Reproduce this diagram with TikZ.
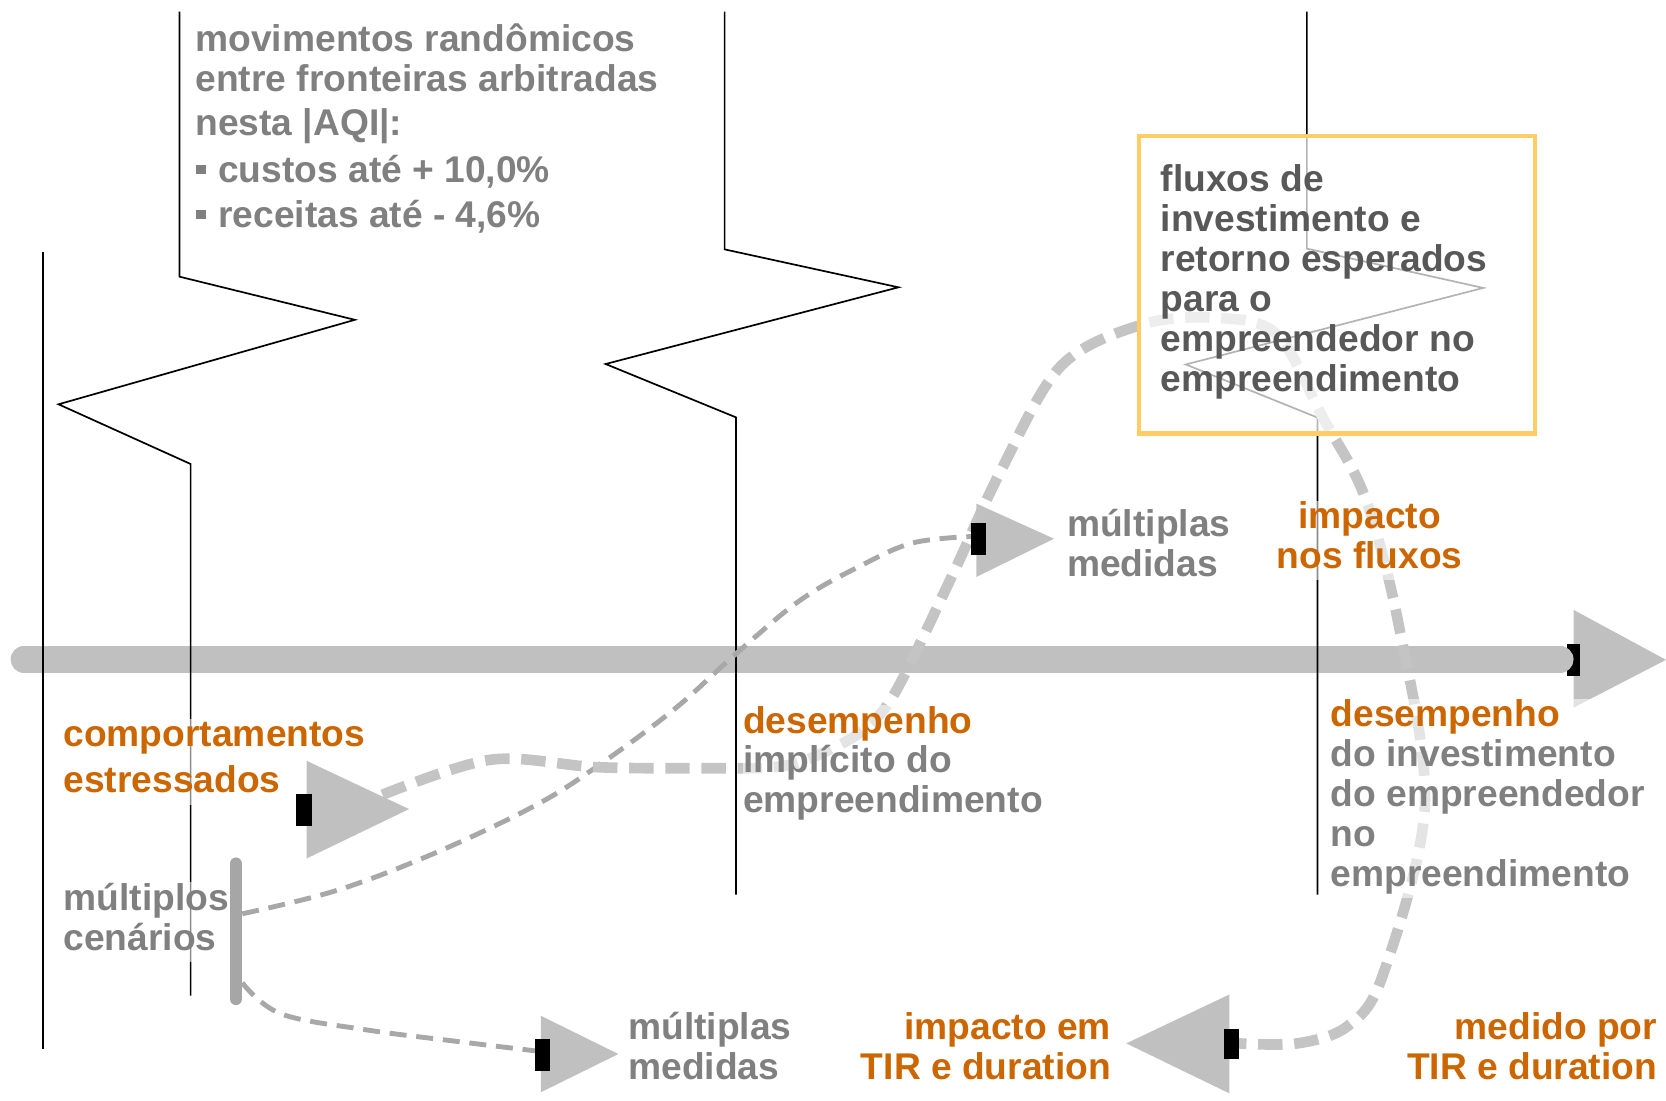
\documentclass[tikz,border=0pt]{standalone}
\usepackage{fontspec}
\setmainfont{Liberation Sans}
\definecolor{txtgray}{HTML}{808080}
\definecolor{boxtxt}{HTML}{585858}
\definecolor{orng}{HTML}{CC6600}
\definecolor{arrgray}{HTML}{C0C0C0}
\definecolor{dashlight}{HTML}{C4C4C4}
\definecolor{dashdark}{HTML}{A8A8A8}
\definecolor{boxedge}{HTML}{FFCC66}
\definecolor{bargray}{HTML}{A6A6A6}
\newcommand\bulsq{\raisebox{0.23em}{\rule{0.27em}{0.24em}}\hspace{0.34em}}
\begin{document}
\begin{tikzpicture}[x=0.5pt,y=-0.5pt,
  zig/.style={draw=black, line width=0.8pt, line join=miter},
  lbl/.style={inner sep=0pt, font=\bfseries\fontsize{17.5}{18.75}\selectfont,
              fill=white, fill opacity=0.55, text opacity=1},
  thindash/.style={draw=dashdark, line width=2.3pt, dash pattern=on 8pt off 4.6pt},
  thickdash/.style={draw=dashlight, line width=5pt, dash pattern=on 11.5pt off 5.5pt},
  tri/.style={fill=arrgray},
  tab/.style={fill=black},
  framebox/.style={draw=boxedge, line width=1.9pt, fill=white, fill opacity=0.7, inner sep=0pt}]
\useasboundingbox (0,0) rectangle (1568,1035.3);

% main time axis
\fill[tri] (1481,574) -- (1568,621) -- (1481,666) -- cycle;
\fill[tab] (1475,606) rectangle (1487,636);
\coordinate (axL) at (22.5,620.5);
\coordinate (axR) at (1468.5,620.5);
\draw[arrgray, line width=12.5pt, line cap=round] (axL) -- (axR);

% boundaries
\draw[zig] (40.5,237) -- (40.5,987);
\draw[zig] (169,11) -- (169,260.4) -- (334,301) -- (55.1,380.5) -- (179.4,436.7) -- (179.4,937);
\draw[zig] (682,11) -- (682,234.7) -- (845.6,270.4) -- (570,342.6) -- (692.7,392.8) -- (692.7,842);
\draw[zig] (1230,11) -- (1230,234) -- (1396,271) -- (1116,343) -- (1240,393) -- (1240,842);

% scenario bar
\coordinate (sbT) at (222,813);
\coordinate (sbB) at (222,940);
\draw[bargray, line width=6pt, line cap=round] (sbT) -- (sbB);

% connector endpoints
\coordinate (bar1) at (228,860);
\coordinate (bar2) at (228,925);
\coordinate (mUp) at (914,505);
\coordinate (mLow) at (503.5,989);
\coordinate (cs) at (360,748);
\coordinate (la) at (1166,982);

% dashed connectors
\draw[thindash] plot[smooth, tension=0.6] coordinates {(bar1) (317,838) (409,803) (502,759) (561,722) (634,668) (693,615) (753,565) (809,533) (859,511) (mUp)};
\draw[thindash] plot[smooth, tension=0.6] coordinates {(bar2) (264,954) (343,969) (429,980) (mLow)};
\draw[thickdash] plot[smooth, tension=0.55] coordinates {(cs) (462,715) (561,722) (659,723) (737,721) (784,704) (816,684) (844,649) (897,540) (941,445) (998,345) (1073,306) (1141,299) (1201,314) (1245,393) (1285,469) (1317,591) (1341,759) (1301,919) (1268,966) (1221,982) (la)};

% framed box
\node[framebox, minimum width=186.5pt, minimum height=140pt] (box) at (1258.5,268) {};

% texts
\node[lbl, anchor=base west, text=txtgray] (top) at (183.6,48.6)
  {\begin{tabular}[t]{@{}l@{}}movimentos randômicos\\ entre fronteiras arbitradas\\[2.1pt] nesta |AQI|:\\[3.2pt] \bulsq custos até + 10,0\%\\[2.4pt] \bulsq receitas até - 4,6\%\end{tabular}};
\node[lbl, anchor=base west, text=boxtxt, fill opacity=0] (boxtext) at (1092,180.5)
  {\begin{tabular}[t]{@{}l@{}}fluxos de\\ investimento e\\ retorno esperados\\ para o\\ empreendedor no\\ empreendimento\end{tabular}};
\node[lbl, anchor=base west, text=orng] (comp) at (59.4,702.7)
  {\begin{tabular}[t]{@{}l@{}}comportamentos\\[2.9pt] estressados\end{tabular}};
\node[lbl, anchor=base west, text=txtgray] (cen) at (59.4,856.5)
  {\begin{tabular}[t]{@{}l@{}}múltiplos\\[0.3pt] cenários\end{tabular}};
\node[lbl, anchor=base west, text=txtgray] (impl) at (699,690)
  {\begin{tabular}[t]{@{}l@{}}\textcolor{orng}{desempenho}\\ implícito do\\ empreendimento\end{tabular}};
\node[lbl, anchor=base west, text=txtgray] (medUp) at (1004,505)
  {\begin{tabular}[t]{@{}l@{}}múltiplas\\ medidas\end{tabular}};
\node[lbl, anchor=base, text=orng] (impfl) at (1289,497.5)
  {\begin{tabular}[t]{@{}c@{}}impacto\\ nos fluxos\end{tabular}};
\node[lbl, anchor=base west, text=txtgray] (inv) at (1252,684)
  {\begin{tabular}[t]{@{}l@{}}\textcolor{orng}{desempenho}\\ do investimento\\ do empreendedor\\ no\\ empreendimento\end{tabular}};
\node[lbl, anchor=base west, text=txtgray] (medLow) at (591,978.2)
  {\begin{tabular}[t]{@{}l@{}}múltiplas\\ medidas\end{tabular}};
\node[lbl, anchor=base east, text=orng] (tir1) at (1046,978.8)
  {\begin{tabular}[t]{@{}r@{}}impacto em\\ TIR e duration\end{tabular}};
\node[lbl, anchor=base east, text=orng] (tir2) at (1560,978.8)
  {\begin{tabular}[t]{@{}r@{}}medido por\\ TIR e duration\end{tabular}};

% arrow markers (on top)
\fill[tri] (288.5,716) -- (385,761.5) -- (288.5,808) -- cycle;
\fill[tab] (279,747) rectangle (294,777);
\fill[tri] (919,474) -- (992,507) -- (919,543) -- cycle;
\fill[tab] (914,492) rectangle (928,522);
\fill[tri] (509,956) -- (582,992) -- (509,1028) -- cycle;
\fill[tab] (503.5,978) rectangle (517.6,1008);
\fill[tri] (1157,936) -- (1060,982) -- (1157,1029) -- cycle;
\fill[tab] (1152,968) rectangle (1166,997);
\end{tikzpicture}
\end{document}
